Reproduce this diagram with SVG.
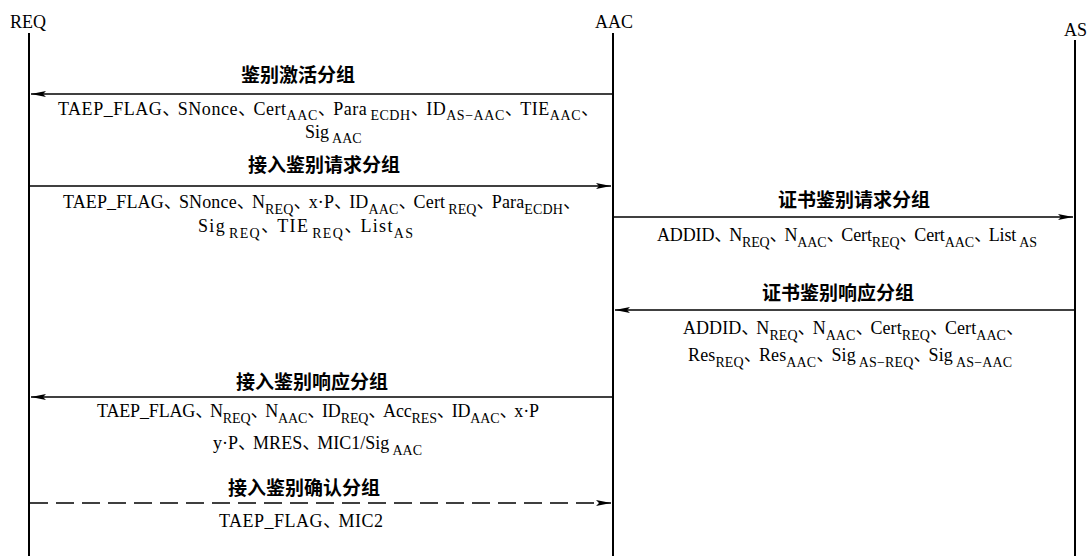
<svg xmlns="http://www.w3.org/2000/svg" width="1088" height="556" viewBox="0 0 1088 556">
<style>
.ent{font-family:"Liberation Serif","Noto Sans CJK SC",serif;font-size:18px;fill:#000}
.lbl{font-family:"Noto Sans CJK SC",sans-serif;font-size:19px;font-weight:bold;fill:#000;text-anchor:middle}
.prm{font-family:"Liberation Serif","Noto Sans CJK SC",serif;font-size:18px;fill:#000}
.sb{font-size:14px}
.c{letter-spacing:-3px}
.life{stroke:#000;stroke-width:2;fill:none}
.msg{stroke:#000;stroke-width:1.3;fill:none}
.dash{stroke-dasharray:18 8}
</style>
<defs>
<marker id="ah" markerUnits="userSpaceOnUse" markerWidth="16" markerHeight="8" refX="15" refY="4" orient="auto">
<path d="M0,1 L15,4 L0,7 L3,4 z" fill="#000"/>
</marker>
</defs>
<rect width="1088" height="556" fill="#fff"/>
<g id="REQ">
<text class="ent" x="10" y="28">REQ</text>
<line class="life" x1="29" y1="33" x2="29" y2="556"/>
</g>
<g id="AAC">
<text class="ent" x="595" y="28">AAC</text>
<line class="life" x1="613" y1="33" x2="613" y2="556"/>
</g>
<g id="AS">
<text class="ent" x="1064" y="36">AS</text>
<line class="life" x1="1075" y1="40" x2="1075" y2="556"/>
</g>
<g id="connectors">
<g id="m1">
<line class="msg" x1="612" y1="94" x2="31" y2="94" marker-end="url(#ah)"/>
<text class="lbl" x="298" y="82">鉴别激活分组</text>
<text class="prm" x="58" y="115" textLength="538" lengthAdjust="spacing">TAEP_FLAG<tspan class="c">、</tspan>SNonce<tspan class="c">、</tspan>Cert<tspan class="sb" dy="5">AAC</tspan><tspan class="c" dy="-5">、</tspan>Para<tspan class="sb" dx="3" dy="5">ECDH</tspan><tspan class="c" dy="-5">、</tspan>ID<tspan class="sb" dy="5">AS−AAC</tspan><tspan class="c" dy="-5">、</tspan>TIE<tspan class="sb" dy="5">AAC</tspan><tspan class="c" dy="-5">、</tspan></text>
<text class="prm" x="305" y="138">Sig<tspan class="sb" dx="3" dy="5">AAC</tspan></text>
</g>
<g id="m2">
<line class="msg" x1="30" y1="186" x2="611" y2="186" marker-end="url(#ah)"/>
<text class="lbl" x="324" y="172">接入鉴别请求分组</text>
<text class="prm" x="63" y="208" textLength="515" lengthAdjust="spacing">TAEP_FLAG<tspan class="c">、</tspan>SNonce<tspan class="c">、</tspan>N<tspan class="sb" dy="6">REQ</tspan><tspan class="c" dy="-6">、</tspan>x·P<tspan class="c">、</tspan>ID<tspan class="sb" dy="6">AAC</tspan><tspan class="c" dy="-6">、</tspan>Cert<tspan class="sb" dx="3" dy="6">REQ</tspan><tspan class="c" dy="-6">、</tspan>Para<tspan class="sb" dy="6">ECDH</tspan><tspan class="c" dy="-6">、</tspan></text>
<text class="prm" x="198" y="232" textLength="215" lengthAdjust="spacing">Sig<tspan class="sb" dx="3" dy="6">REQ</tspan><tspan class="c" dy="-6">、</tspan>TIE<tspan class="sb" dx="3" dy="6">REQ</tspan><tspan class="c" dy="-6">、</tspan>List<tspan class="sb" dy="6">AS</tspan></text>
</g>
<g id="m3">
<line class="msg" x1="614" y1="217" x2="1073" y2="217" marker-end="url(#ah)"/>
<text class="lbl" x="854" y="207">证书鉴别请求分组</text>
<text class="prm" x="657" y="241" textLength="380" lengthAdjust="spacing">ADDID<tspan class="c">、</tspan>N<tspan class="sb" dy="6">REQ</tspan><tspan class="c" dy="-6">、</tspan>N<tspan class="sb" dy="6">AAC</tspan><tspan class="c" dy="-6">、</tspan>Cert<tspan class="sb" dy="6">REQ</tspan><tspan class="c" dy="-6">、</tspan>Cert<tspan class="sb" dy="6">AAC</tspan><tspan class="c" dy="-6">、</tspan>List<tspan class="sb" dx="3" dy="6">AS</tspan></text>
</g>
<g id="m4">
<line class="msg" x1="1074" y1="310" x2="615" y2="310" marker-end="url(#ah)"/>
<text class="lbl" x="838" y="300">证书鉴别响应分组</text>
<text class="prm" x="683" y="334" textLength="338" lengthAdjust="spacing">ADDID<tspan class="c">、</tspan>N<tspan class="sb" dy="6">REQ</tspan><tspan class="c" dy="-6">、</tspan>N<tspan class="sb" dy="6">AAC</tspan><tspan class="c" dy="-6">、</tspan>Cert<tspan class="sb" dy="6">REQ</tspan><tspan class="c" dy="-6">、</tspan>Cert<tspan class="sb" dy="6">AAC</tspan><tspan class="c" dy="-6">、</tspan></text>
<text class="prm" x="688" y="361" textLength="324" lengthAdjust="spacing">Res<tspan class="sb" dy="6">REQ</tspan><tspan class="c" dy="-6">、</tspan>Res<tspan class="sb" dy="6">AAC</tspan><tspan class="c" dy="-6">、</tspan>Sig<tspan class="sb" dx="3" dy="6">AS−REQ</tspan><tspan class="c" dy="-6">、</tspan>Sig<tspan class="sb" dx="3" dy="6">AS−AAC</tspan></text>
</g>
<g id="m5">
<line class="msg" x1="612" y1="397" x2="31" y2="397" marker-end="url(#ah)"/>
<text class="lbl" x="312" y="389">接入鉴别响应分组</text>
<text class="prm" x="97" y="417" textLength="442" lengthAdjust="spacing">TAEP_FLAG<tspan class="c">、</tspan>N<tspan class="sb" dy="6">REQ</tspan><tspan class="c" dy="-6">、</tspan>N<tspan class="sb" dy="6">AAC</tspan><tspan class="c" dy="-6">、</tspan>ID<tspan class="sb" dy="6">REQ</tspan><tspan class="c" dy="-6">、</tspan>Acc<tspan class="sb" dy="6">RES</tspan><tspan class="c" dy="-6">、</tspan>ID<tspan class="sb" dy="6">AAC</tspan><tspan class="c" dy="-6">、</tspan>x·P</text>
<text class="prm" x="213" y="449" textLength="209" lengthAdjust="spacing">y·P<tspan class="c">、</tspan>MRES<tspan class="c">、</tspan>MIC1/Sig<tspan class="sb" dx="3" dy="6">AAC</tspan></text>
</g>
<g id="m6">
<line class="msg dash" x1="30" y1="503" x2="611" y2="503" marker-end="url(#ah)"/>
<text class="lbl" x="304" y="495">接入鉴别确认分组</text>
<text class="prm" x="219" y="527" textLength="164" lengthAdjust="spacing">TAEP_FLAG<tspan class="c">、</tspan>MIC2</text>
</g>
</g>
</svg>
